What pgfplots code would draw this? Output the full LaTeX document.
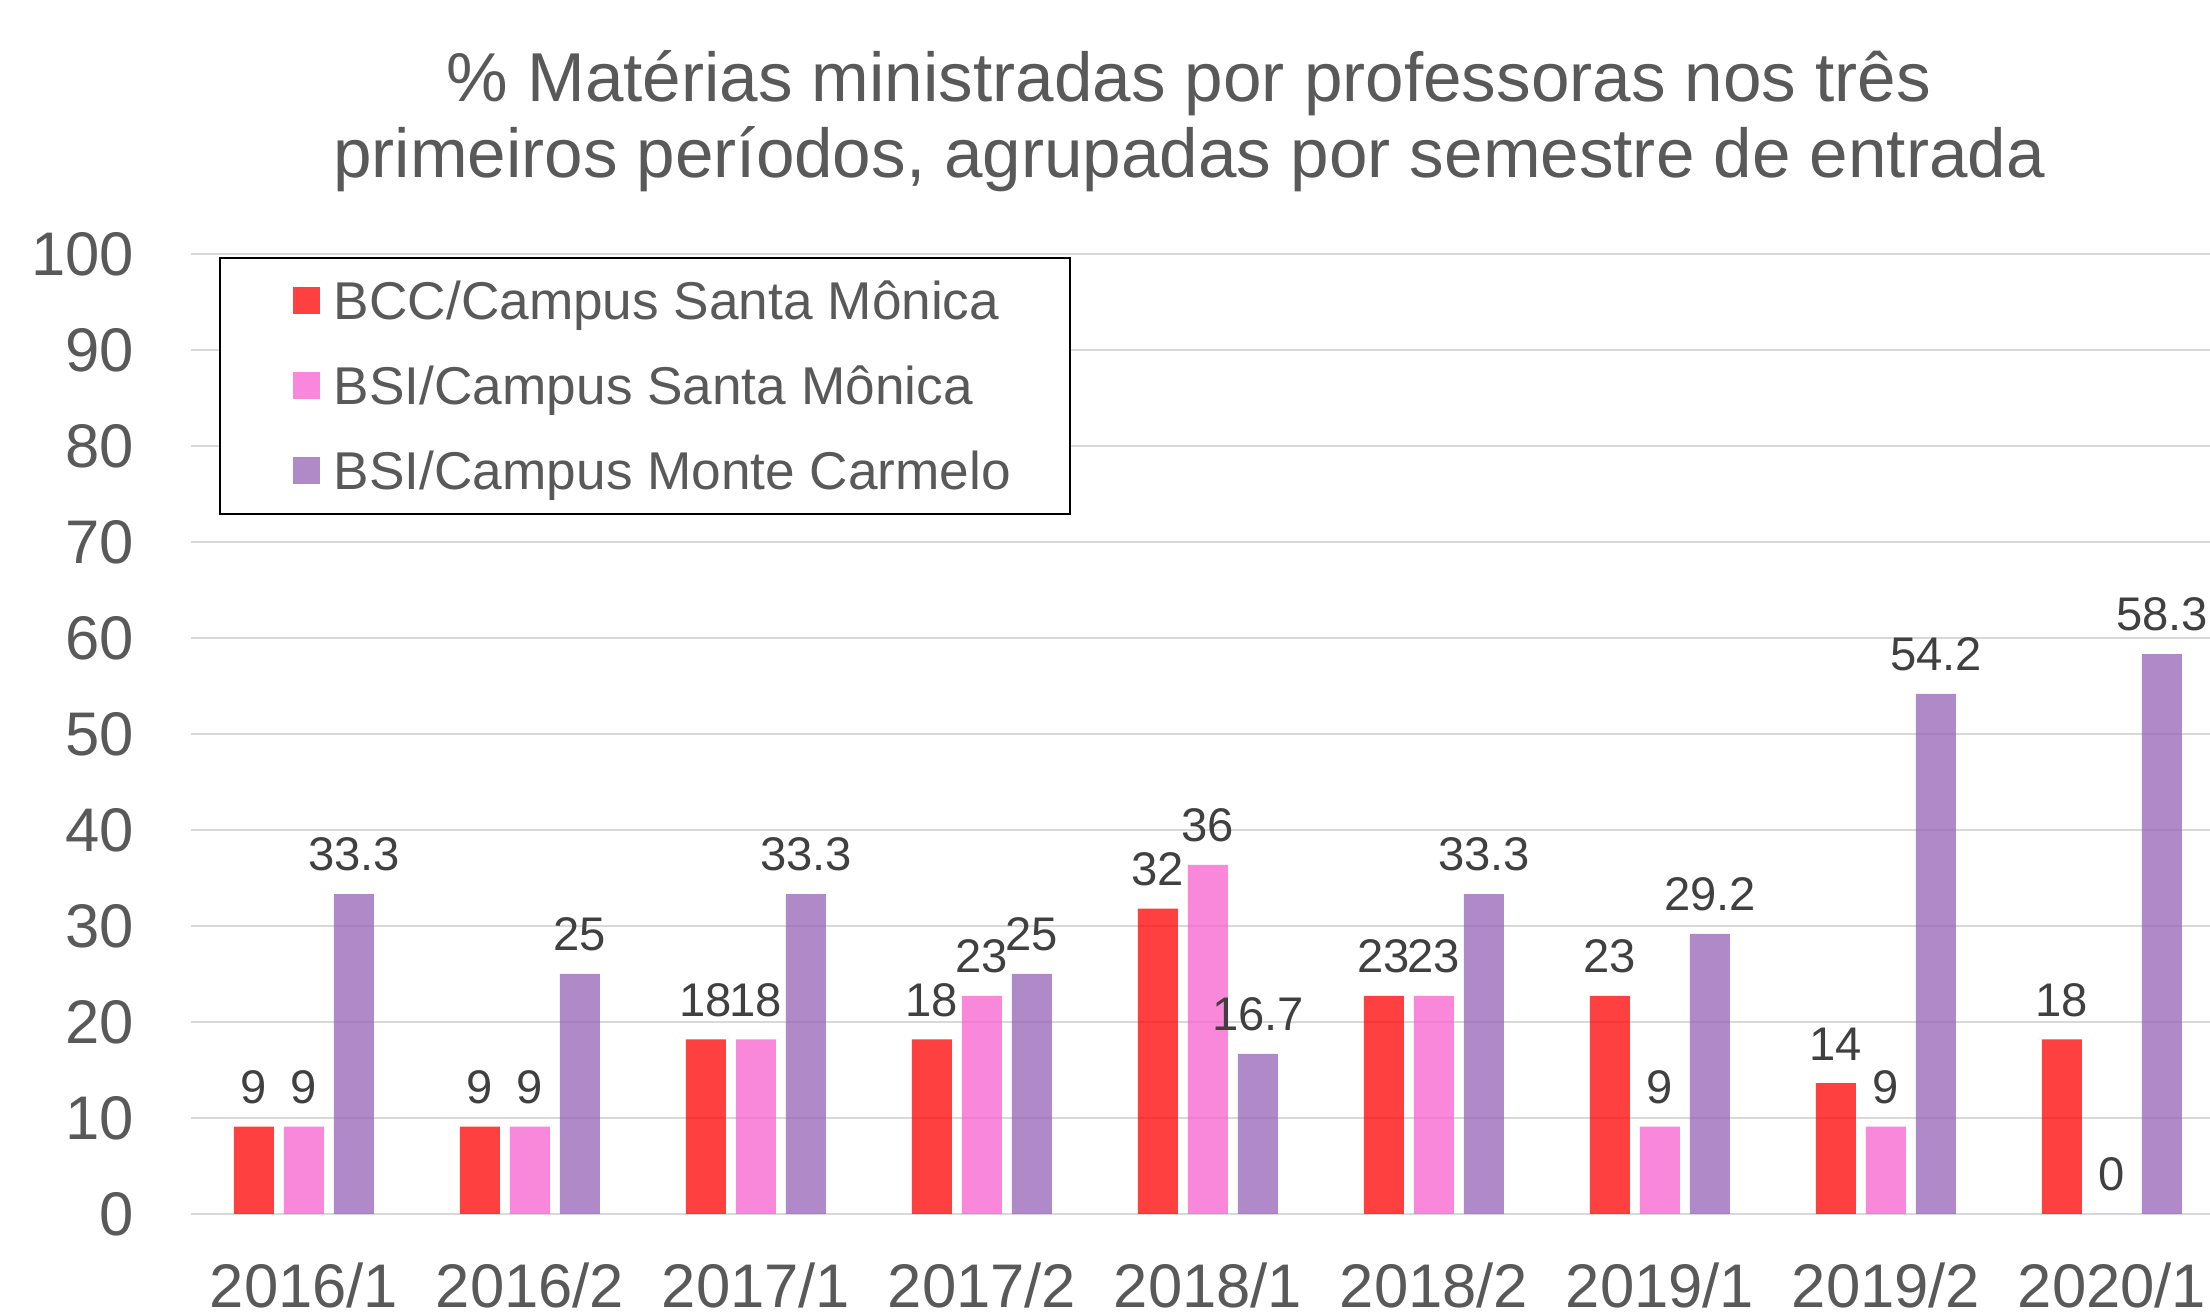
\documentclass[border=0pt]{standalone}
\usepackage{fontspec}
\setmainfont{Liberation Sans}
\usepackage{pgfplots}
\usepackage{pgfplotstable}
\pgfplotsset{compat=1.18}
\definecolor{cred}{RGB}{255,0,0}
\definecolor{cpink}{RGB}{247,96,207}
\definecolor{cpurple}{RGB}{150,99,181}
\definecolor{tgray}{RGB}{89,89,89}
\definecolor{lgray}{RGB}{64,64,64}
\definecolor{gridc}{RGB}{217,217,217}

\pgfplotstableread{
x bcc bccl bsism bsisml bsimc bsimcl
0 9.09 9 9.09 9 33.33 33.3
1 9.09 9 9.09 9 25 25
2 18.18 18 18.18 18 33.33 33.3
3 18.18 18 22.73 23 25 25
4 31.82 32 36.36 36 16.67 16.7
5 22.73 23 22.73 23 33.33 33.3
6 22.73 23 9.09 9 29.17 29.2
7 13.64 14 9.09 9 54.17 54.2
8 18.18 18 0 0 58.33 58.3
}\data

\begin{document}
\begin{tikzpicture}
\begin{axis}[
  name=ax,
  scale only axis, width=508.5pt, height=240pt,
  xmin=-0.5, xmax=8.5, ymin=0, ymax=100,
  ybar=2.5pt, bar width=10pt,
  xtick={0,...,8},
  xticklabels={2016/1,2016/2,2017/1,2017/2,2018/1,2018/2,2019/1,2019/2,2020/1},
  ytick={0,10,...,100},
  ymajorgrids, grid style={draw=gridc, line width=0.5pt},
  axis line style={draw=none},
  major tick length=0pt,
  tick label style={font=\fontsize{15.4}{18}\selectfont, text=tgray},
  /pgf/number format/assume math mode=true,
  yticklabel style={anchor=east, inner sep=0pt, xshift=-14pt},
  xticklabel style={anchor=base, inner sep=0pt, text depth=0pt, yshift=-23.5pt},
  clip=false,
  nodes near coords, point meta=explicit symbolic,
  every node near coord/.append style={font=\fontsize{11.8}{14}\selectfont, text=lgray, inner sep=0pt, yshift=5.5pt, text opacity=1},
  every axis plot/.append style={draw=none, fill opacity=0.75},
  legend style={at={(axis description cs:0,1)}, anchor=north west, xshift=7pt, yshift=-0.75pt,
    draw=black, line width=0.5pt, inner xsep=14.75pt, inner ysep=0pt,
    row sep=-0.25pt, column sep=3.5pt,
    font=\fontsize{13.3}{15}\selectfont, text=tgray,
    cells={anchor=west},
    nodes={inner sep=0pt, text height=15.5pt, text depth=6pt}},
  legend image code/.code={\path (0pt,0pt); \fill[#1, draw=none] (3.5pt,-3.375pt) rectangle (10.25pt,3.375pt);},
]
\addplot[fill=cred] table[x=x, y=bcc, meta=bccl] {\data};
\addplot[fill=cpink] table[x=x, y=bsism, meta=bsisml] {\data};
\addplot[fill=cpurple] table[x=x, y=bsimc, meta=bsimcl] {\data};
\legend{BCC/Campus Santa Mônica, BSI/Campus Santa Mônica, BSI/Campus Monte Carmelo}
\end{axis}
\node[anchor=base, font=\fontsize{17.3}{18.75}\selectfont, text=tgray, inner sep=0pt] at ([xshift=249.5pt, yshift=278pt]ax.south west) {\% Matérias ministradas por professoras nos três};
\node[anchor=base, font=\fontsize{17.3}{18.75}\selectfont, text=tgray, inner sep=0pt] at ([xshift=249.5pt, yshift=259pt]ax.south west) {primeiros períodos, agrupadas por semestre de entrada};
\pgfresetboundingbox
\path[use as bounding box] ([xshift=-47.75pt, yshift=-25.5pt]ax.south west) rectangle ([xshift=504.75pt, yshift=303.5pt]ax.south west);
\end{tikzpicture}
\end{document}
